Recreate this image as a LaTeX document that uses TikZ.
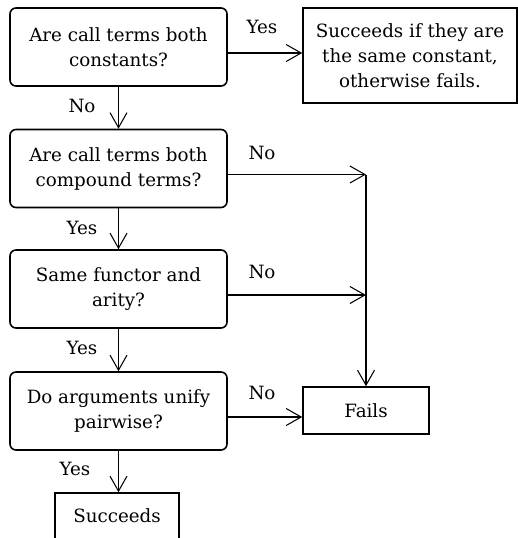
\documentclass[tikz,border=0pt]{standalone}
\usepackage{fontspec}
\setmainfont{DejaVu Serif}
\usetikzlibrary{arrows.meta}

\begin{document}
\begin{tikzpicture}[>={Straight Barb[length=3mm,width=3.4mm]},
 font=\fontsize{10.4}{14.2}\selectfont,line width=0.6pt,
 test/.style={draw,line width=0.9pt,rounded corners=0.12cm,align=center,
  minimum width=4.34cm,minimum height=1.56cm,inner sep=0pt},
 result/.style={draw,line width=0.9pt,align=center,inner sep=0pt},
 branch/.style={inner sep=1pt}]
\useasboundingbox (0,0) rectangle (10.36,-10.76);
\node[test] (q1) at (2.37,-0.94) {Are call terms both\\constants?};
\node[test] (q2) at (2.37,-3.37) {Are call terms both\\compound terms?};
\node[test] (q3) at (2.37,-5.78) {Same functor and\\arity?};
\node[test] (q4) at (2.37,-8.22) {Do arguments unify\\pairwise?};
\node[result,minimum width=4.28cm,minimum height=1.9cm] (sif) at (8.2,-1.11)
 {Succeeds if they are\\the same constant,\\otherwise fails.};
\node[result,minimum width=2.52cm,minimum height=0.94cm] (fail) at (7.32,-8.21) {Fails};
\node[result,minimum width=2.48cm,minimum height=0.92cm] (succ) at (2.34,-10.32) {Succeeds};
% downward chain
\draw[->] (q1.south) -- (q2.north);
\draw[->] (q2.south) -- (q3.north);
\draw[->] (q3.south) -- (q4.north);
\draw[->] (q4.south) -- (q4.south |- succ.north);
% sideways branches
\draw[->] ([yshift=-1.2mm]q1.east) -- ([yshift=-1.2mm]q1.east -| sif.west);
\draw[->] ([yshift=-1.2mm]q2.east) -- ([yshift=-1.2mm]q2.east -| fail.north);
\draw[->] ([yshift=-1.2mm]q3.east) -- ([yshift=-1.2mm]q3.east -| fail.north);
\draw[->] ([yshift=-1.2mm]q2.east -| fail.north) -- (fail.north);
\draw[->] ([yshift=-1.2mm]q4.east) -- ([yshift=-1.2mm]q4.east -| fail.west);
\node[branch] (y1) at (5.24,-0.54) {Yes};
\node[branch] (n1) at (1.64,-2.12) {No};
\node[branch] (n2) at (5.24,-3.06) {No};
\node[branch] (y2) at (1.64,-4.56) {Yes};
\node[branch] (n3) at (5.24,-5.44) {No};
\node[branch] (y3) at (1.64,-6.96) {Yes};
\node[branch] (n4) at (5.24,-7.86) {No};
\node[branch] (y4) at (1.5,-9.38) {Yes};
\end{tikzpicture}
\end{document}
